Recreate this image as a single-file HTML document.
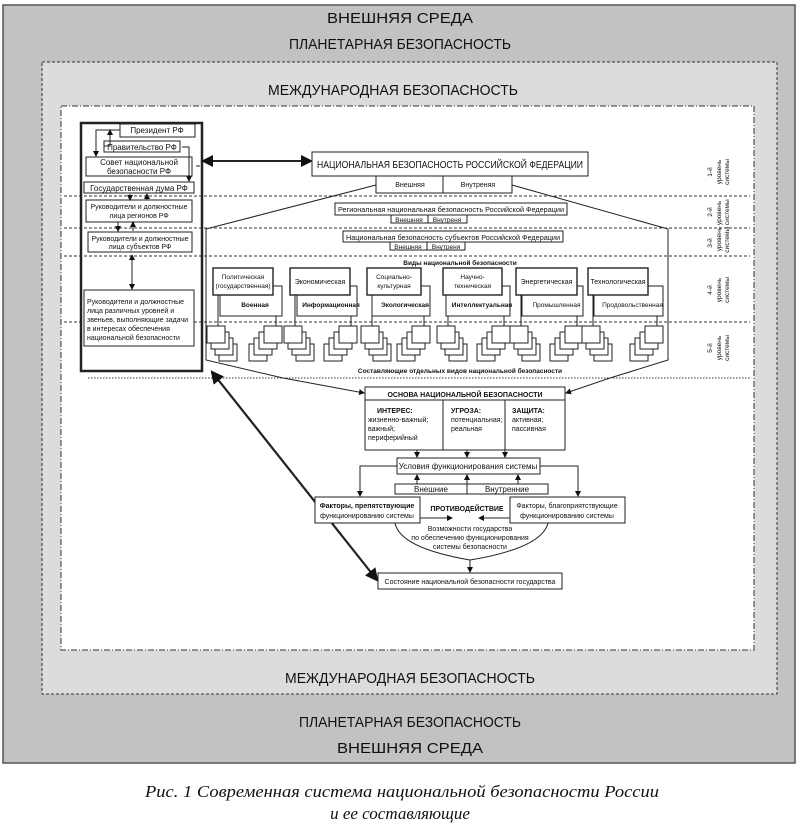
<!DOCTYPE html>
<html><head><meta charset="utf-8"><style>
html,body{margin:0;padding:0;background:#fff;width:800px;height:826px;overflow:hidden}
svg{display:block}
text{font-family:"Liberation Sans",sans-serif;fill:#111}
.s{font-size:7px}
.m{font-size:8px}
.big{font-size:15px}
.cap{font-family:"Liberation Serif",serif;font-style:italic;font-size:17px}
</style></head><body>
<svg id="d" width="800" height="826" viewBox="0 0 800 826" xmlns="http://www.w3.org/2000/svg">
<rect x="0" y="0" width="800" height="826" fill="#fff"/>
<rect x="3" y="5" width="792" height="758" fill="#c2c2c2" stroke="#555" stroke-width="1.5"/>
<rect x="42" y="62" width="735" height="632" fill="#dcdcdc" stroke="#333" stroke-width="1" stroke-dasharray="3,2"/>
<rect x="61" y="106" width="693" height="544" fill="#fff" stroke="#333" stroke-width="1" stroke-dasharray="6,2,1,2"/>
<text class="big" x="400" y="23" text-anchor="middle" textLength="146" lengthAdjust="spacingAndGlyphs">ВНЕШНЯЯ СРЕДА</text>
<text class="big" x="400" y="49" text-anchor="middle" textLength="222" lengthAdjust="spacingAndGlyphs">ПЛАНЕТАРНАЯ БЕЗОПАСНОСТЬ</text>
<text class="big" x="393" y="95" text-anchor="middle" textLength="250" lengthAdjust="spacingAndGlyphs">МЕЖДУНАРОДНАЯ БЕЗОПАСНОСТЬ</text>
<text class="big" x="410" y="683" text-anchor="middle" textLength="250" lengthAdjust="spacingAndGlyphs">МЕЖДУНАРОДНАЯ БЕЗОПАСНОСТЬ</text>
<text class="big" x="410" y="727" text-anchor="middle" textLength="222" lengthAdjust="spacingAndGlyphs">ПЛАНЕТАРНАЯ БЕЗОПАСНОСТЬ</text>
<text class="big" x="410" y="753" text-anchor="middle" textLength="146" lengthAdjust="spacingAndGlyphs">ВНЕШНЯЯ СРЕДА</text>
<text class="cap" x="402" y="797" text-anchor="middle" textLength="514" lengthAdjust="spacingAndGlyphs">Рис. 1 Современная система национальной безопасности России</text>
<text class="cap" x="400" y="819" text-anchor="middle">и ее составляющие</text>

<defs><marker id="a" markerWidth="6" markerHeight="6" refX="5" refY="3" orient="auto"><path d="M0,0 L6,3 L0,6z" fill="#111"/></marker>
<marker id="as" markerWidth="6" markerHeight="6" refX="1" refY="3" orient="auto"><path d="M6,0 L0,3 L6,6z" fill="#111"/></marker></defs>

<g stroke="#333" stroke-width="1" stroke-dasharray="3,2" fill="none">
<line x1="64" y1="196" x2="750" y2="196"/>
<line x1="64" y1="228" x2="750" y2="228"/>
<line x1="64" y1="256" x2="750" y2="256"/>
<line x1="64" y1="322" x2="750" y2="322"/>
<line x1="88" y1="378" x2="750" y2="378" stroke-dasharray="1.5,1.5"/>
</g>

<g fill="#fff" stroke="#222" stroke-width="1">
<rect x="81" y="123" width="121" height="248" fill="none" stroke-width="2.5"/>
<rect x="120" y="124" width="75" height="13"/>
<rect x="104" y="141" width="76" height="11"/>
<rect x="86" y="157" width="106" height="19"/>
<rect x="84" y="182" width="110" height="11"/>
<rect x="86" y="200" width="106" height="22"/>
<rect x="88" y="232" width="104" height="20"/>
<rect x="84" y="290" width="110" height="56"/>
</g>
<g fill="none" stroke="#222" stroke-width="1">
<path d="M120,130 H96 V156" marker-end="url(#a)"/>
<path d="M104,146 H110 V130" marker-end="url(#a)"/>
<path d="M182,147 H189 V181" marker-end="url(#a)"/>
<line x1="196" y1="166" x2="200" y2="166"/>
<line x1="130" y1="194" x2="130" y2="200" marker-end="url(#a)"/>
<line x1="147" y1="200" x2="147" y2="194" marker-end="url(#a)"/>
<line x1="118" y1="222" x2="118" y2="231" marker-end="url(#a)"/>
<line x1="133" y1="231" x2="133" y2="222" marker-end="url(#a)"/>
<line x1="132" y1="255" x2="132" y2="289" marker-end="url(#a)" marker-start="url(#as)"/>
<line x1="203" y1="161" x2="311" y2="161" stroke-width="2" marker-end="url(#a)" marker-start="url(#as)"/>
<line x1="212" y1="372" x2="377" y2="580" stroke-width="2.2" marker-end="url(#a)" marker-start="url(#as)"/>
</g>
<text class="m" x="157" y="133" text-anchor="middle">Президент РФ</text>
<text class="m" x="142" y="150" text-anchor="middle">Правительство РФ</text>
<text class="m" x="139" y="165" text-anchor="middle">Совет национальной</text>
<text class="m" x="139" y="174" text-anchor="middle">безопасности  РФ</text>
<text class="m" x="139" y="191" text-anchor="middle">Государственная  дума  РФ</text>
<text class="s" x="139" y="209" text-anchor="middle">Руководители и должностные</text>
<text class="s" x="139" y="218" text-anchor="middle">лица регионов РФ</text>
<text class="s" x="140" y="241" text-anchor="middle">Руководители и должностные</text>
<text class="s" x="140" y="249" text-anchor="middle">лица субъектов РФ</text>
<text class="s" x="87" y="304">Руководители и должностные</text>
<text class="s" x="87" y="313">лица различных уровней и</text>
<text class="s" x="87" y="322">звеньев, выполняющие задачи</text>
<text class="s" x="87" y="331">в интересах обеспечения</text>
<text class="s" x="87" y="340">национальной безопасности</text>

<g fill="none" stroke="#222" stroke-width="1">
<path d="M376,185 L206,229 V360 L283,378"/>
<path d="M512,185 L668,229 V360 L610,378"/>
</g>
<g fill="#fff" stroke="#222" stroke-width="1">
<rect x="312" y="152" width="276" height="24"/>
<rect x="376" y="176" width="136" height="17"/>
<line x1="443" y1="176" x2="443" y2="193"/>
<rect x="335" y="203" width="232" height="12"/>
<rect x="391" y="215" width="76" height="8"/>
<line x1="428" y1="215" x2="428" y2="223"/>
<rect x="343" y="231" width="220" height="11"/>
<rect x="390" y="242" width="75" height="8"/>
<line x1="427" y1="242" x2="427" y2="250"/>
</g>
<text x="450" y="168" text-anchor="middle" font-size="10" textLength="266" lengthAdjust="spacingAndGlyphs">НАЦИОНАЛЬНАЯ БЕЗОПАСНОСТЬ РОССИЙСКОЙ ФЕДЕРАЦИИ</text>
<text class="s" x="410" y="187" text-anchor="middle">Внешняя</text>
<text class="s" x="478" y="187" text-anchor="middle">Внутреняя</text>
<text class="s" x="451" y="212" text-anchor="middle" textLength="226" lengthAdjust="spacingAndGlyphs">Региональная национальная безопасность Российской Федерации</text>
<text x="409" y="222" text-anchor="middle" font-size="6.5">Внешняя</text>
<text x="447" y="222" text-anchor="middle" font-size="6.5">Внутреня</text>
<text class="s" x="453" y="240" text-anchor="middle" textLength="214" lengthAdjust="spacingAndGlyphs">Национальная безопасность субъектов Российской Федерации</text>
<text x="408" y="249" text-anchor="middle" font-size="6.5">Внешняя</text>
<text x="446" y="249" text-anchor="middle" font-size="6.5">Внутреня</text>
<text x="460" y="265" text-anchor="middle" font-size="6.5" font-weight="bold">Виды национальной безопасности</text>
<text x="460" y="373" text-anchor="middle" font-size="6.5" font-weight="bold">Составляющие отдельных видов национальной безопасности</text>
<g id="groups"></g>

<g fill="none" stroke="#222" stroke-width="1">
<line x1="283" y1="378" x2="364" y2="393" marker-end="url(#a)"/>
<line x1="610" y1="378" x2="566" y2="393" marker-end="url(#a)"/>
</g>
<g fill="#fff" stroke="#222" stroke-width="1">
<rect x="365" y="387" width="200" height="63"/>
<line x1="365" y1="400" x2="565" y2="400"/>
<line x1="443" y1="400" x2="443" y2="450"/>
<line x1="505" y1="400" x2="505" y2="450"/>
<rect x="397" y="458" width="143" height="16"/>
<rect x="395" y="484" width="153" height="10"/>
<line x1="467" y1="484" x2="467" y2="494"/>
<rect x="315" y="497" width="105" height="26"/>
<rect x="510" y="497" width="115" height="26"/>
<rect x="378" y="573" width="184" height="16"/>
</g>
<g fill="none" stroke="#222" stroke-width="1">
<line x1="417" y1="450" x2="417" y2="457" marker-end="url(#a)"/>
<line x1="467" y1="450" x2="467" y2="457" marker-end="url(#a)"/>
<line x1="505" y1="450" x2="505" y2="457" marker-end="url(#a)"/>
<line x1="417" y1="484" x2="417" y2="475" marker-end="url(#a)"/>
<line x1="467" y1="494" x2="467" y2="475" marker-end="url(#a)"/>
<line x1="518" y1="484" x2="518" y2="475" marker-end="url(#a)"/>
<path d="M397,466 H360 V496" marker-end="url(#a)"/>
<path d="M540,466 H578 V496" marker-end="url(#a)"/>
<line x1="420" y1="518" x2="452" y2="518" marker-end="url(#a)"/>
<line x1="510" y1="518" x2="479" y2="518" marker-end="url(#a)"/>
<path d="M395,523 Q400,548 470,560 Q542,548 548,523"/>
<line x1="470" y1="560" x2="470" y2="572" marker-end="url(#a)"/>
</g>
<text x="465" y="397" text-anchor="middle" font-size="7" font-weight="bold">ОСНОВА НАЦИОНАЛЬНОЙ БЕЗОПАСНОСТИ</text>
<text class="s" x="377" y="413" font-weight="bold">ИНТЕРЕС:</text>
<text class="s" x="368" y="422">жизненно-важный;</text>
<text class="s" x="368" y="431">важный;</text>
<text class="s" x="368" y="440">периферийный</text>
<text class="s" x="451" y="413" font-weight="bold">УГРОЗА:</text>
<text class="s" x="451" y="422">потенциальная;</text>
<text class="s" x="451" y="431">реальная</text>
<text class="s" x="512" y="413" font-weight="bold">ЗАЩИТА:</text>
<text class="s" x="512" y="422">активная;</text>
<text class="s" x="512" y="431">пассивная</text>
<text class="m" x="468" y="469" text-anchor="middle">Условия функционирования  системы</text>
<text class="m" x="431" y="492" text-anchor="middle">Внешние</text>
<text class="m" x="507" y="492" text-anchor="middle">Внутренние</text>
<text class="s" x="367" y="508" text-anchor="middle" font-weight="bold">Факторы, препятствующие</text>
<text class="s" x="367" y="518" text-anchor="middle">функционированию системы</text>
<text class="s" x="567" y="508" text-anchor="middle">Факторы, благоприятствующие</text>
<text class="s" x="567" y="518" text-anchor="middle">функционированию системы</text>
<text x="467" y="511" text-anchor="middle" font-size="7" font-weight="bold">ПРОТИВОДЕЙСТВИЕ</text>
<text class="s" x="470" y="531" text-anchor="middle">Возможности государства</text>
<text class="s" x="470" y="540" text-anchor="middle">по обеспечению функционирования</text>
<text class="s" x="470" y="549" text-anchor="middle">системы безопасности</text>
<text class="s" x="470" y="584" text-anchor="middle">Состояние национальной безопасности государства</text>

<g font-size="6.5" fill="#333">
<text transform="translate(712,172) rotate(-90)" text-anchor="middle">1-й</text>
<text transform="translate(721,172) rotate(-90)" text-anchor="middle">уровень</text>
<text transform="translate(729,172) rotate(-90)" text-anchor="middle">системы</text>
<text transform="translate(712,212) rotate(-90)" text-anchor="middle">2-й</text>
<text transform="translate(712,243) rotate(-90)" text-anchor="middle">3-й</text>
<text transform="translate(721,226) rotate(-90)" text-anchor="middle">уровень уровень</text>
<text transform="translate(729,226) rotate(-90)" text-anchor="middle">системы системы</text>
<text transform="translate(712,290) rotate(-90)" text-anchor="middle">4-й</text>
<text transform="translate(721,290) rotate(-90)" text-anchor="middle">уровень</text>
<text transform="translate(729,290) rotate(-90)" text-anchor="middle">системы</text>
<text transform="translate(712,348) rotate(-90)" text-anchor="middle">5-й</text>
<text transform="translate(721,348) rotate(-90)" text-anchor="middle">уровень</text>
<text transform="translate(729,348) rotate(-90)" text-anchor="middle">системы</text>
</g>
</svg>
<script>
var NS="http://www.w3.org/2000/svg",g=document.getElementById("groups");
function el(t,a,txt){var e=document.createElementNS(NS,t);for(var k in a)e.setAttribute(k,a[k]);if(txt)e.textContent=txt;g.appendChild(e);return e;}
var G=[
[213,273,220,282,["Политическая","(государственная)"],"Военная",1],
[290,350,297,357,["Экономическая"],"Информационная",1],
[367,421,372,430,["Социально-","культурная"],"Экологическая",1],
[443,502,446,510,["Научно-","техническая"],"Интеллектуальная",1],
[516,577,522,583,["Энергетическая"],"Промышленная",0],
[588,648,594,663,["Технологическая"],"Продовольственная",0]];
G.forEach(function(q){
 el("line",{x1:q[0]+5,y1:294,x2:q[0]+5,y2:326,stroke:"#222"});
 el("line",{x1:q[3]-6,y1:316,x2:q[3]-6,y2:326,stroke:"#222"});
 el("rect",{x:q[2],y:286,width:q[3]-q[2],height:30,fill:"#fff",stroke:"#222"});
 el("rect",{x:q[0],y:268,width:q[1]-q[0],height:27,fill:"#fff",stroke:"#222","stroke-width":1.4});
 var cx=(q[0]+q[1])/2;
 if(q[4].length==2){el("text",{x:cx,y:279,"text-anchor":"middle","font-size":"6.5"},q[4][0]);el("text",{x:cx,y:288,"text-anchor":"middle","font-size":"6.5"},q[4][1]);}
 else el("text",{x:cx,y:284,"text-anchor":"middle","font-size":"7"},q[4][0]);
 el("text",{x:(q[2]+q[3])/2+4,y:307,"text-anchor":"middle","font-size":"6.5","font-weight":q[6]?"bold":"normal"},q[5]);
 var L=q[0]-6,R=q[3]-18;
 for(var i=3;i>=0;i--)el("rect",{x:L+i*4,y:326+i*6,width:18,height:17,fill:"#fff",stroke:"#222"});
 for(var i=3;i>=0;i--)el("rect",{x:R-i*5,y:326+i*6,width:18,height:17,fill:"#fff",stroke:"#222"});
});
</script>
</body></html>
